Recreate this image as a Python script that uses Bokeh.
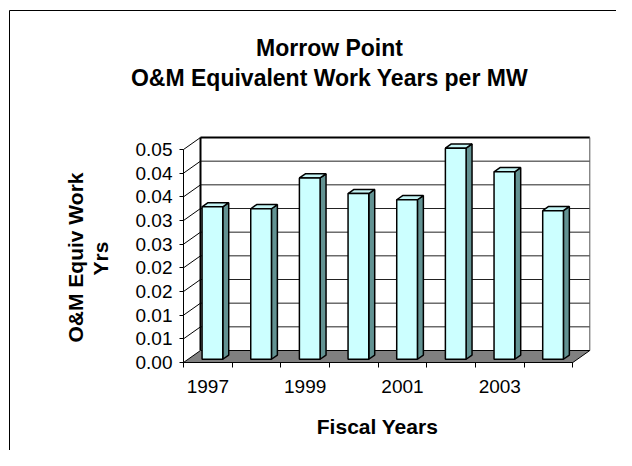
import numpy as np
from bokeh.plotting import figure
from bokeh.models import FixedTicker, Label, Range1d
from bokeh.embed import file_html
from bokeh.resources import INLINE

# ---------------- data ----------------
years = [1997, 1998, 1999, 2000, 2001, 2002, 2003, 2004]
values = [0.0322, 0.0318, 0.0383, 0.0350, 0.0337, 0.0446, 0.0396, 0.0314]
y_ticks = [0.0, 0.005, 0.01, 0.015, 0.02, 0.025, 0.03, 0.035, 0.04, 0.045]
y_tick_labels = ["0.00", "0.01", "0.01", "0.02", "0.02", "0.03", "0.03", "0.04", "0.04", "0.05"]
x_label_years = [1997, 1999, 2001, 2003]
title_lines = ["Morrow Point", "O&M Equivalent Work Years per MW"]
y_title_lines = ["O&M Equiv Work", "Yrs"]
x_title = "Fiscal Years"

# ---------------- layout (pixels) ----------------
W, H = 616, 450
AX, AY = 183.0, 362.0        # px position of the front axes origin
FRONT_W = 389.3              # px width of the front category axis
FRONT_H = 213.0              # px height of the front value axis (0 .. top tick)
DEPTH_X, DEPTH_Y = 17.0, 12.0
BAR_W = 20.7
F0, F1 = 0.27, 0.62          # bar depth fractions (front, back)
FONT = "Liberation Sans"

x0 = years[0] - 0.5
x1 = years[-1] + 0.5
vmax = y_ticks[-1]
ppx = FRONT_W / (x1 - x0)
ppy = FRONT_H / vmax


def dx(px):
    return x0 + (px - AX) / ppx


def dy(py):
    return (AY - py) / ppy


dxu = DEPTH_X / ppx
dyu = DEPTH_Y / ppy
bw = BAR_W / 2 / ppx

p = figure(width=W, height=H, output_backend="svg", toolbar_location=None,
           x_range=Range1d(dx(0), dx(W)), y_range=Range1d(dy(H), dy(0)),
           min_border=0, background_fill_color="white", border_fill_color="white")
p.outline_line_color = None
p.xgrid.visible = False
p.ygrid.visible = False

# ---- outer chart-area border (top & left) ----
p.line([dx(9), dx(W)], [dy(10), dy(10)], line_color="black", line_width=1)
p.line([dx(9), dx(9)], [dy(10), dy(H)], line_color="black", line_width=1)

# ---- back wall ----
bx0, bx1 = x0 + dxu, x1 + dxu
by0, by1 = dyu, vmax + dyu
p.quad(left=[bx0], right=[bx1], bottom=[by0], top=[by1], fill_color="white", line_color=None)
for v in y_ticks[1:-1]:
    p.line([bx0, bx1], [v + dyu, v + dyu], line_color="#222222", line_width=1)
for v in y_ticks[1:]:
    p.line([x0, bx0], [v, v + dyu], line_color="black", line_width=1)
p.line([bx0, bx1], [by1, by1], line_color="black", line_width=2)
p.line([bx0, bx0], [by0, by1], line_color="black", line_width=2)
p.line([bx1, bx1], [by0, by1], line_color="#555555", line_width=1)

# ---- floor ----
p.patch([x0, x1, bx1, bx0], [0, 0, by0, by0], fill_color="#808080", line_color="black", line_width=1)

# ---- bars ----
yrs = np.array(years, dtype=float)
vals = np.array(values, dtype=float)
xl = yrs - bw + F0 * dxu
xr = yrs + bw + F0 * dxu
b = np.full_like(vals, F0 * dyu)
t = vals + F0 * dyu
ddx = (F1 - F0) * dxu
ddy = (F1 - F0) * dyu

side_xs = [[r, r + ddx, r + ddx, r] for r in xr]
side_ys = [[bb, bb + ddy, tt + ddy, tt] for bb, tt in zip(b, t)]
top_xs = [[l, r, r + ddx, l + ddx] for l, r in zip(xl, xr)]
top_ys = [[tt, tt, tt + ddy, tt + ddy] for tt in t]

p.patches(side_xs, side_ys, fill_color="#629292", line_color="black", line_width=1.5)
p.patches(top_xs, top_ys, fill_color="#C4F4F4", line_color="black", line_width=1.5)
p.quad(left=xl, right=xr, bottom=b, top=t, fill_color="#CCFFFF", line_color="black", line_width=1.5)

# ---- axes (fixed at the front edges of the 3D box) ----
ya = p.yaxis[0]
ya.fixed_location = x0
ya.ticker = FixedTicker(ticks=y_ticks, minor_ticks=[])
ya.major_label_overrides = {v: s for v, s in zip(y_ticks, y_tick_labels)}
ya.bounds = (0, vmax)
ya.axis_line_color = "black"
ya.major_tick_line_color = "black"
ya.major_tick_out = 4
ya.major_tick_in = 0
ya.major_label_standoff = 7
ya.major_label_text_font = FONT
ya.major_label_text_font_size = "19px"
ya.major_label_text_color = "black"

xa = p.xaxis[0]
xa.fixed_location = 0
xa.ticker = FixedTicker(ticks=x_label_years, minor_ticks=[y - 0.5 for y in years] + [x1])
xa.major_label_overrides = {y: str(y) for y in x_label_years}
xa.bounds = (x0, x1)
xa.axis_line_color = "black"
xa.major_tick_out = 0
xa.major_tick_in = 0
xa.minor_tick_out = 5
xa.minor_tick_in = 0
xa.minor_tick_line_color = "black"
xa.major_label_standoff = 12
xa.major_label_text_font = FONT
xa.major_label_text_font_size = "19px"
xa.major_label_text_color = "black"


# ---- texts ----
def add_label(px, py, text, size, angle=0.0):
    p.add_layout(Label(x=dx(px), y=dy(py), text=text, text_align="center",
                       text_baseline="middle", angle=angle,
                       text_font=FONT, text_font_size=size, text_font_style="bold",
                       text_color="black"))


add_label(329, 47, title_lines[0], "23px")
add_label(329, 77, title_lines[1], "23px")
add_label(75, 257, y_title_lines[0], "21px", angle=np.pi / 2)
add_label(100, 258, y_title_lines[1], "21px", angle=np.pi / 2)
add_label(377, 426, x_title, "21px")

open("out.html", "w").write(file_html(p, INLINE))
